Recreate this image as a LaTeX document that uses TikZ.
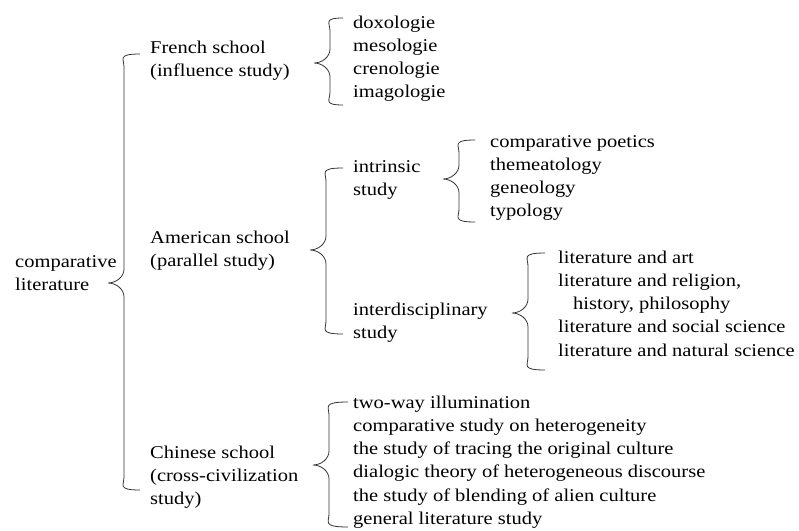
\documentclass[tikz,border=0pt]{standalone}
\usepackage{fontspec}
\setmainfont{Liberation Serif}[FakeStretch=1.14]
\usetikzlibrary{calc}

% curly brace: top end, tip, bottom end
\newcommand{\curly}[3]{%
  \draw [brace] let \p1=(#1), \p2=(#2), \p3=(#3) in
    (\x1,\y1) .. controls (\x2+9pt,\y1) and (\x2+16pt,\y1-5pt) .. (\x2+16pt,\y1-13pt)
    -- (\x2+16pt,\y2+14pt) .. controls (\x2+16pt,\y2+6pt) and (\x2+8pt,\y2) .. (\x2,\y2)
    .. controls (\x2+8pt,\y2) and (\x2+16pt,\y2-6pt) .. (\x2+16pt,\y2-14pt)
    -- (\x2+16pt,\y3+13pt) .. controls (\x2+16pt,\y3+5pt) and (\x2+9pt,\y3) .. (\x3,\y3);}

\begin{document}
\begin{tikzpicture}[x=1pt,y=-1pt]
    \tikzstyle{txt}=[anchor=base west, inner sep=0pt, align=left,
                     font=\fontsize{18}{23.3}\selectfont]
    \tikzstyle{brace}=[draw=black!80, line width=0.8pt]
    \useasboundingbox (0,0) rectangle (799,530);

    % Draw the root and the three schools (placed by their last line)
    \node [txt] (root) at (15,290.3) {comparative\\literature};
    \node [txt] (french) at (150,76.3) {French school\\(influence study)};
    \node [txt] (american) at (150,266.3) {American school\\(parallel study)};
    \node [txt] (chinese) at (150,504.6) {Chinese school\\(cross-civilization\\study)};

    % Draw the branches of each school
    \node [txt] (frlist) at (353,97.9) {doxologie\\mesologie\\crenologie\\imagologie};
    \node [txt] (intrinsic) at (353,195.3) {intrinsic\\study};
    \node [txt] (interdis) at (353,338.3) {interdisciplinary\\study};
    \node [txt] (intrlist) at (490,216.9)
        {comparative poetics\\themeatology\\geneology\\typology};
    \node [txt] (interlist) at (558,356.2)
        {literature and art\\literature and religion,\\\hspace*{15pt}history, philosophy\\
         literature and social science\\literature and natural science};
    \node [txt] (chlist) at (353,524.5)
        {two-way illumination\\comparative study on heterogeneity\\
         the study of tracing the original culture\\
         dialogic theory of heterogeneous discourse\\
         the study of blending of alien culture\\general literature study};

    % Brace ends and tips
    \coordinate (root-t) at (140,54);  \coordinate (root-m) at (108,283);  \coordinate (root-b) at (140,490);
    \coordinate (fr-t) at (343,18);    \coordinate (fr-m) at (314,63);     \coordinate (fr-b) at (343,105);
    \coordinate (am-t) at (343,168);   \coordinate (am-m) at (310,250);    \coordinate (am-b) at (343,334);
    \coordinate (ch-t) at (348,402);   \coordinate (ch-m) at (313,465);    \coordinate (ch-b) at (348,527);
    \coordinate (in-t) at (475,140);   \coordinate (in-m) at (443,179);    \coordinate (in-b) at (475,222);
    \coordinate (id-t) at (545,253);   \coordinate (id-m) at (512,313);    \coordinate (id-b) at (545,370);

    % Draw the braces
    \curly{root-t}{root-m}{root-b}
    \curly{fr-t}{fr-m}{fr-b}
    \curly{am-t}{am-m}{am-b}
    \curly{ch-t}{ch-m}{ch-b}
    \curly{in-t}{in-m}{in-b}
    \curly{id-t}{id-m}{id-b}
\end{tikzpicture}
\end{document}
